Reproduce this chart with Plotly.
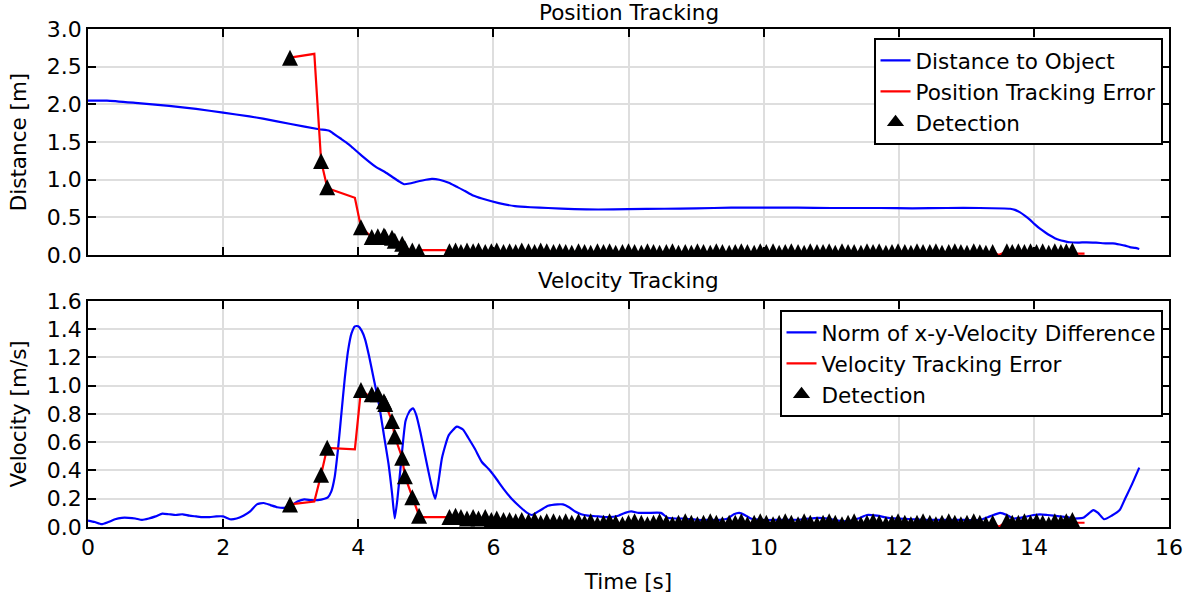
import plotly.graph_objects as go

# ---------------- Position tracking (top panel) ----------------
dist_t = [0.0, 0.28, 0.7, 1.2, 1.6, 2.0, 2.39, 2.59, 3.0, 3.42, 3.57, 3.62, 3.75, 3.86,
          3.91, 4.05, 4.26, 4.4, 4.5, 4.6, 4.68, 4.76, 4.85, 4.95, 5.09, 5.2, 5.34, 5.45,
          5.58, 5.7, 5.83, 6.08, 6.32, 6.55, 6.81, 7.2, 7.55, 8.0, 8.53, 9.0, 9.52, 10.0,
          10.5, 11.0, 11.73, 12.2, 12.71, 13.2, 13.65, 13.72, 13.79, 13.87, 13.94, 14.01,
          14.09, 14.17, 14.24, 14.31, 14.38, 14.45, 14.53, 14.65, 14.78, 14.92, 15.07,
          15.17, 15.27, 15.35, 15.42, 15.5, 15.56]
dist_m = [2.05, 2.05, 2.02, 1.98, 1.94, 1.89, 1.84, 1.81, 1.74, 1.67, 1.65, 1.62, 1.54, 1.47,
          1.43, 1.32, 1.17, 1.1, 1.04, 0.98, 0.94, 0.95, 0.97, 0.99, 1.01, 1.0, 0.96, 0.91,
          0.85, 0.79, 0.75, 0.69, 0.65, 0.635, 0.625, 0.61, 0.605, 0.61, 0.615, 0.62, 0.63, 0.63,
          0.63, 0.625, 0.625, 0.62, 0.625, 0.625, 0.615, 0.6, 0.57, 0.52, 0.47, 0.41,
          0.35, 0.3, 0.26, 0.225, 0.2, 0.185, 0.17, 0.165, 0.17, 0.165, 0.155,
          0.155, 0.14, 0.125, 0.105, 0.095, 0.08]

# position error before the steady tracking phase
pos_err_t_head = [2.99, 3.35, 3.45, 3.54, 3.60, 3.95, 4.04, 4.20, 4.29, 4.38, 4.40,
                  4.50, 4.54, 4.65, 4.69, 4.80, 4.90, 4.95, 5.28]
pos_err_head = [2.62, 2.67, 1.25, 0.90, 0.87, 0.76, 0.37, 0.24, 0.25, 0.26, 0.24,
                0.23, 0.19, 0.15, 0.09, 0.06, 0.05, 0.065, 0.065]
# short dropout in detections and the tail after the last detection
pos_err_t_gap = [13.48]
pos_err_gap = [0.0]
pos_err_t_tail = [14.62, 14.75]
pos_err_tail = [0.02, 0.02]

# detections during the approach
det_t_head = [2.99, 3.45, 3.54, 4.04, 4.20, 4.29, 4.38, 4.40, 4.50, 4.54, 4.65, 4.69, 4.80, 4.90]
pos_det_head = [2.62, 1.25, 0.90, 0.37, 0.24, 0.25, 0.26, 0.24, 0.23, 0.19, 0.15, 0.09, 0.06, 0.05]
vel_det_head = [0.16, 0.37, 0.56, 0.97, 0.94, 0.94, 0.89, 0.87, 0.75, 0.64, 0.49, 0.36, 0.21, 0.08]

# detections during steady tracking
det_t_steady = [
    5.35, 5.44, 5.52, 5.61, 5.70, 5.78, 5.88, 5.97, 6.05, 6.15,
    6.24, 6.33, 6.42, 6.52, 6.61, 6.70, 6.79, 6.89, 6.98, 7.07,
    7.16, 7.26, 7.35, 7.44, 7.54, 7.63, 7.72, 7.81, 7.91, 8.00,
    8.09, 8.19, 8.28, 8.37, 8.46, 8.56, 8.65, 8.74, 8.84, 8.93,
    9.02, 9.11, 9.21, 9.30, 9.39, 9.49, 9.58, 9.67, 9.76, 9.86,
    9.95, 10.04, 10.14, 10.23, 10.32, 10.41, 10.51, 10.60, 10.69, 10.79,
    10.88, 10.97, 11.06, 11.16, 11.25, 11.34, 11.44, 11.53, 11.62, 11.71,
    11.81, 11.90, 11.99, 12.09, 12.18, 12.27, 12.36, 12.46, 12.55, 12.64,
    12.74, 12.83, 12.92, 13.01, 13.11, 13.20, 13.29, 13.39, 13.60, 13.68,
    13.77, 13.86, 13.95, 14.04, 14.13, 14.22, 14.31, 14.40, 14.48, 14.57]
pos_det_steady = [
    0.05, 0.06, 0.04, 0.06, 0.05, 0.06, 0.04, 0.05, 0.06, 0.04,
    0.05, 0.04, 0.06, 0.05, 0.04, 0.06, 0.05, 0.04, 0.05, 0.04,
    0.03, 0.05, 0.04, 0.03, 0.05, 0.04, 0.05, 0.03, 0.04, 0.05,
    0.04, 0.03, 0.05, 0.04, 0.03, 0.04, 0.05, 0.03, 0.04, 0.03,
    0.05, 0.04, 0.03, 0.05, 0.04, 0.03, 0.04, 0.05, 0.04, 0.03,
    0.05, 0.04, 0.05, 0.03, 0.04, 0.05, 0.04, 0.03, 0.05, 0.04,
    0.04, 0.05, 0.03, 0.05, 0.04, 0.04, 0.03, 0.05, 0.04, 0.05,
    0.03, 0.04, 0.05, 0.04, 0.03, 0.05, 0.04, 0.04, 0.05, 0.03,
    0.04, 0.05, 0.04, 0.03, 0.05, 0.04, 0.03, 0.04, 0.05, 0.04,
    0.05, 0.04, 0.05, 0.04, 0.05, 0.03, 0.05, 0.04, 0.05, 0.06]
vel_det_steady = [
    0.07, 0.08, 0.07, 0.06, 0.07, 0.06, 0.07, 0.05, 0.06, 0.05,
    0.05, 0.04, 0.05, 0.04, 0.05, 0.03, 0.04, 0.04, 0.03, 0.04,
    0.03, 0.04, 0.03, 0.04, 0.02, 0.03, 0.04, 0.03, 0.02, 0.03,
    0.04, 0.03, 0.02, 0.03, 0.04, 0.03, 0.02, 0.03, 0.04, 0.03,
    0.02, 0.03, 0.04, 0.03, 0.02, 0.03, 0.03, 0.04, 0.02, 0.03,
    0.04, 0.03, 0.02, 0.03, 0.04, 0.03, 0.02, 0.04, 0.03, 0.02,
    0.03, 0.04, 0.03, 0.02, 0.03, 0.04, 0.02, 0.03, 0.04, 0.03,
    0.02, 0.03, 0.04, 0.03, 0.02, 0.03, 0.04, 0.03, 0.02, 0.03,
    0.04, 0.03, 0.02, 0.03, 0.04, 0.03, 0.02, 0.03, 0.04, 0.03,
    0.03, 0.04, 0.03, 0.04, 0.03, 0.02, 0.04, 0.03, 0.04, 0.05]

# ---------------- Velocity tracking (bottom panel) ----------------
vdiff_t = [0.0, 0.1, 0.2, 0.3, 0.4, 0.5, 0.6, 0.7, 0.8, 0.9, 1.0, 1.1, 1.2, 1.3, 1.4, 1.5,
           1.6, 1.7, 1.8, 1.9, 2.0, 2.1, 2.2, 2.3, 2.4, 2.5, 2.6, 2.7, 2.8, 2.9, 3.0, 3.1,
           3.2, 3.3, 3.4, 3.5, 3.55, 3.6, 3.65, 3.7, 3.75, 3.8, 3.85, 3.9, 3.95, 4.0, 4.05,
           4.1, 4.16, 4.22, 4.31, 4.38, 4.45, 4.5, 4.54, 4.58, 4.63, 4.7, 4.76, 4.81, 4.86,
           4.92, 4.98, 5.04, 5.1, 5.14, 5.19, 5.24, 5.34, 5.46, 5.55, 5.63, 5.73, 5.83, 5.93,
           6.03, 6.15, 6.27, 6.4, 6.5, 6.57, 6.7, 6.81, 6.95, 7.03, 7.12, 7.21, 7.3, 7.4,
           7.55, 7.7, 7.85, 7.95, 8.04, 8.15, 8.29, 8.48, 8.58, 8.7, 8.83, 9.03, 9.2, 9.35,
           9.47, 9.56, 9.64, 9.72, 9.81, 10.0, 10.2, 10.4, 10.6, 10.8, 10.95, 11.1, 11.24,
           11.4, 11.53, 11.68, 11.85, 11.98, 12.2, 12.4, 12.6, 12.8, 13.0, 13.2, 13.35, 13.5,
           13.6, 13.7, 13.85, 14.0, 14.09, 14.2, 14.38, 14.5, 14.58, 14.73, 14.88, 14.95,
           15.04, 15.15, 15.27, 15.35, 15.45, 15.56]
vdiff = [0.045, 0.035, 0.02, 0.035, 0.055, 0.065, 0.065, 0.06, 0.05, 0.06, 0.075, 0.095,
         0.09, 0.085, 0.09, 0.08, 0.075, 0.07, 0.07, 0.075, 0.075, 0.055, 0.06, 0.08, 0.11,
         0.16, 0.17, 0.155, 0.14, 0.135, 0.15, 0.18, 0.195, 0.19, 0.19, 0.2, 0.21, 0.25,
         0.35, 0.55, 0.8, 1.05, 1.25, 1.37, 1.42, 1.42, 1.39, 1.33, 1.21, 1.07, 0.86, 0.65,
         0.44, 0.24, 0.06, 0.2, 0.44, 0.75, 0.82, 0.84, 0.79, 0.67, 0.53, 0.39, 0.26, 0.2,
         0.33, 0.49, 0.65, 0.71, 0.69, 0.63, 0.55, 0.46, 0.41, 0.35, 0.27, 0.2, 0.14, 0.1,
         0.085, 0.12, 0.15, 0.16, 0.16, 0.14, 0.11, 0.09, 0.08, 0.075, 0.07, 0.08, 0.1, 0.11,
         0.1, 0.1, 0.1, 0.065, 0.06, 0.06, 0.05, 0.05, 0.05, 0.06, 0.09, 0.1, 0.085, 0.06,
         0.05, 0.05, 0.05, 0.055, 0.065, 0.06, 0.045, 0.04, 0.06, 0.085, 0.08, 0.065, 0.06,
         0.055, 0.05, 0.05, 0.05, 0.05, 0.05, 0.075, 0.1, 0.085, 0.06, 0.07, 0.085, 0.09,
         0.085, 0.075, 0.07, 0.06, 0.065, 0.12, 0.1, 0.055, 0.08, 0.12, 0.2, 0.3, 0.42]

vel_err_t_head = [2.99, 3.35, 3.45, 3.54, 3.95, 4.04, 4.15, 4.20, 4.29, 4.38, 4.40,
                  4.50, 4.54, 4.65, 4.69, 4.80, 4.90, 4.95, 5.28]
vel_err_head = [0.16, 0.18, 0.37, 0.56, 0.55, 0.97, 0.93, 0.94, 0.94, 0.89, 0.87,
                0.75, 0.64, 0.49, 0.36, 0.21, 0.08, 0.07, 0.07]
vel_err_t_gap = [13.48]
vel_err_gap = [0.0]
vel_err_t_tail = [14.62, 14.75]
vel_err_tail = [0.03, 0.03]

X_TICKS = [0, 2, 4, 6, 8, 10, 12, 14, 16]

BLUE = "#0000ff"
RED = "#ff0000"
FONT = "DejaVu Sans"
FS = 21.5        # titles, axis labels, legend
FS_TICK = 22     # tick labels


def split_steady(times, values, t_cut):
    """Split the steady-phase samples at the detection dropout."""
    before = [(t, v) for t, v in zip(times, values) if t < t_cut]
    after = [(t, v) for t, v in zip(times, values) if t >= t_cut]
    return before, after


def error_path(head_t, head_v, gap_t, gap_v, tail_t, tail_v, steady_t, steady_v):
    before, after = split_steady(steady_t, steady_v, gap_t[0])
    xs = head_t + [p[0] for p in before] + gap_t + [p[0] for p in after] + tail_t
    ys = head_v + [p[1] for p in before] + gap_v + [p[1] for p in after] + tail_v
    return xs, ys


pos_err_t, pos_err = error_path(pos_err_t_head, pos_err_head, pos_err_t_gap, pos_err_gap,
                                pos_err_t_tail, pos_err_tail, det_t_steady, pos_det_steady)
vel_err_t, vel_err = error_path(vel_err_t_head, vel_err_head, vel_err_t_gap, vel_err_gap,
                                vel_err_t_tail, vel_err_tail, det_t_steady, vel_det_steady)
det_t = det_t_head + det_t_steady
pos_det = pos_det_head + pos_det_steady
vel_det = vel_det_head + vel_det_steady

# upward triangle centred on the point (arrow flipped and pushed back by half its size)
tri = dict(symbol="arrow-down", angle=180, standoff=8, size=16, color="black",
           line=dict(width=0))
tri_key = dict(symbol="triangle-up", size=15, color="black", line=dict(width=0))

blue_line = dict(color=BLUE, width=2.2, shape="spline", smoothing=0.5)
red_line = dict(color=RED, width=2.2)

fig = go.Figure()
fig.add_trace(go.Scatter(x=dist_t, y=dist_m, mode="lines", name="Distance to Object",
                         line=blue_line, xaxis="x", yaxis="y",
                         legend="legend", legendgroup="a"))
fig.add_trace(go.Scatter(x=pos_err_t, y=pos_err, mode="lines", name="Position Tracking Error",
                         line=red_line, xaxis="x", yaxis="y",
                         legend="legend", legendgroup="b"))
fig.add_trace(go.Scatter(x=det_t, y=pos_det, mode="markers", name="Detection",
                         marker=tri, xaxis="x", yaxis="y", showlegend=False))
fig.add_trace(go.Scatter(x=[None], y=[None], mode="markers", name="Detection",
                         marker=tri_key, xaxis="x", yaxis="y", legend="legend",
                         legendgroup="c"))

fig.add_trace(go.Scatter(x=vdiff_t, y=vdiff, mode="lines", name="Norm of x-y-Velocity Difference",
                         line=blue_line, xaxis="x2", yaxis="y2",
                         legend="legend2", legendgroup="d"))
fig.add_trace(go.Scatter(x=vel_err_t, y=vel_err, mode="lines", name="Velocity Tracking Error",
                         line=red_line, xaxis="x2", yaxis="y2",
                         legend="legend2", legendgroup="e"))
fig.add_trace(go.Scatter(x=det_t, y=vel_det, mode="markers", name="Detection",
                         marker=tri, xaxis="x2", yaxis="y2", showlegend=False))
fig.add_trace(go.Scatter(x=[None], y=[None], mode="markers", name="Detection",
                         marker=tri_key, xaxis="x2", yaxis="y2", legend="legend2",
                         legendgroup="f"))

axis_style = dict(showline=True, linecolor="black", linewidth=1.5, mirror="ticks",
                  ticks="inside", ticklen=8, tickwidth=1.5, tickcolor="black",
                  showgrid=True, gridcolor="#dedede", gridwidth=1.5, zeroline=False,
                  tickfont=dict(family=FONT, size=FS_TICK, color="black"))

legend_style = dict(bgcolor="white", bordercolor="black", borderwidth=2,
                    font=dict(family=FONT, size=FS, color="black"),
                    xanchor="right", yanchor="top", tracegroupgap=0,
                    itemsizing="trace")

title_font = dict(family=FONT, size=FS, color="black")

fig.update_layout(
    width=1195, height=602,
    margin=dict(l=88, r=23, t=29, b=73),
    plot_bgcolor="white", paper_bgcolor="white",
    font=dict(family=FONT, size=FS, color="black"),
    xaxis=dict(domain=[0, 1], range=[0, 16], tickvals=X_TICKS, showticklabels=False,
               anchor="y", **axis_style),
    yaxis=dict(domain=[0.546, 1], range=[0, 3], dtick=0.5, tickformat=".1f", anchor="x",
               title=dict(text="Distance [m]", standoff=14, font=title_font),
               **axis_style),
    xaxis2=dict(domain=[0, 1], range=[0, 16], tickvals=X_TICKS, anchor="y2",
                title=dict(text="Time [s]", standoff=15, font=title_font),
                **axis_style),
    yaxis2=dict(domain=[0, 0.454], range=[0, 1.6], dtick=0.2, tickformat=".1f", anchor="x2",
                title=dict(text="Velocity [m/s]", standoff=14, font=title_font),
                **axis_style),
    legend=dict(x=0.994, y=0.982, **legend_style),
    legend2=dict(x=0.994, y=0.436, **legend_style),
    annotations=[
        dict(text="Position Tracking", xref="x domain", yref="y domain", x=0.5, y=1,
             xanchor="center", yanchor="bottom", yshift=2, showarrow=False,
             font=title_font),
        dict(text="Velocity Tracking", xref="x2 domain", yref="y2 domain", x=0.5, y=1,
             xanchor="center", yanchor="bottom", yshift=6, showarrow=False,
             font=title_font),
    ],
)

fig.write_html("out.html")
